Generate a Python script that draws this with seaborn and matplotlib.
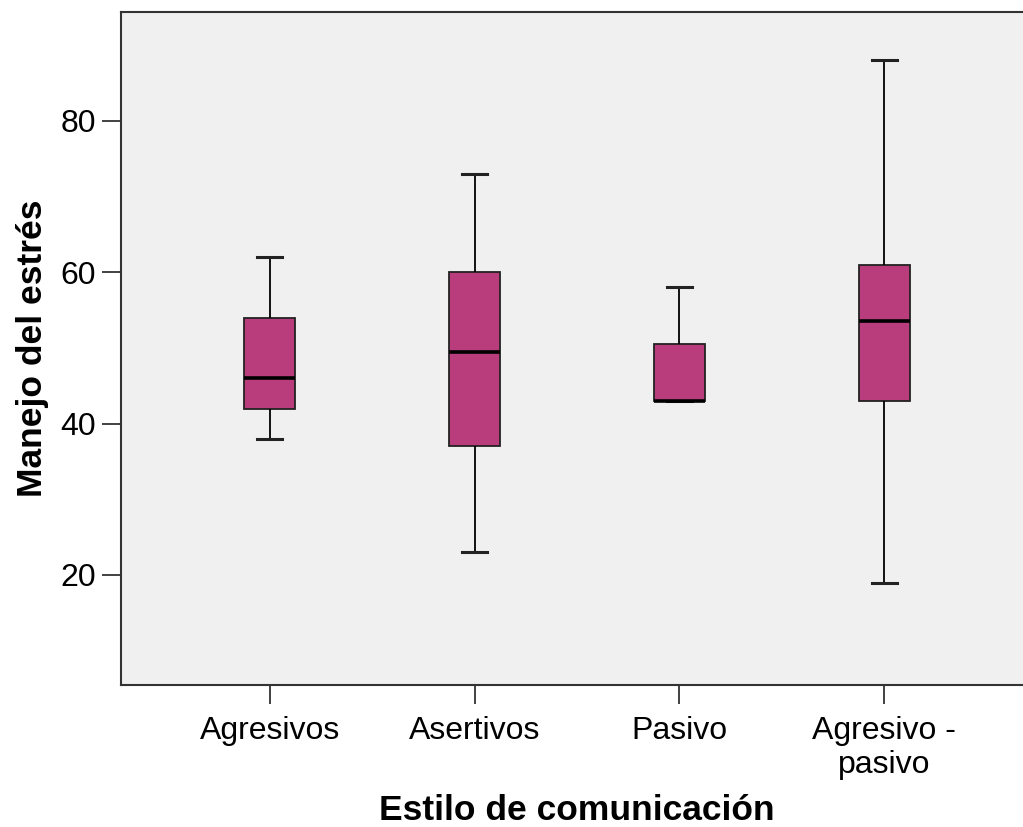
import pandas as pd
import matplotlib
matplotlib.use('Agg')
import matplotlib.pyplot as plt
import seaborn as sns

# five-number summary per group (min, Q1, median, Q3, max)
categorias = ['Agresivos', 'Asertivos', 'Pasivo', 'Agresivo -\npasivo']
agresivos = [38, 42, 46, 54, 62]
asertivos = [23, 37, 49.5, 60, 73]
pasivo = [43, 43, 43, 50.5, 58]
agresivo_pasivo = [19, 43, 53.5, 61, 88]

valores = [agresivos, asertivos, pasivo, agresivo_pasivo]
df = pd.DataFrame({
    'Estilo': [c for c, v in zip(categorias, valores) for _ in v],
    'Manejo': [x for v in valores for x in v],
})

plt.rcParams['font.family'] = ['Liberation Sans', 'DejaVu Sans']

fig = plt.figure(figsize=(10.23, 8.27), dpi=100)
ax = fig.add_axes([121 / 1023, 142 / 827, 912 / 1023, 673 / 827])
ax.set_facecolor('#f0f0f0')

sns.boxplot(data=df, x='Estilo', y='Manejo', order=categorias, ax=ax,
            whis=(0, 100), width=0.25, color='#b93d7c', saturation=1,
            linecolor='#222222', linewidth=1.3, showfliers=False,
            medianprops={'color': 'black', 'linewidth': 2.6},
            whiskerprops={'color': 'black', 'linewidth': 1.3},
            capprops={'color': '#222222', 'linewidth': 2.2})

ax.set_xlim(-0.725, 3.725)
ax.set_ylim(5.46, 94.4)
ax.set_yticks([20, 40, 60, 80])

ax.set_xlabel('Estilo de comunicación', fontsize=25.5, fontweight='bold', labelpad=10)
ax.set_ylabel('Manejo del estrés', fontsize=25.5, fontweight='bold', labelpad=8)
ax.tick_params(axis='both', labelsize=23, length=14, width=1.3, color='#333333', direction='out')
ax.tick_params(axis='x', pad=8)
ax.tick_params(axis='y', pad=4)
for s in ax.spines.values():
    s.set_color('#333333')
    s.set_linewidth(1.5)

fig.savefig('out.png', dpi=100, facecolor='white')
